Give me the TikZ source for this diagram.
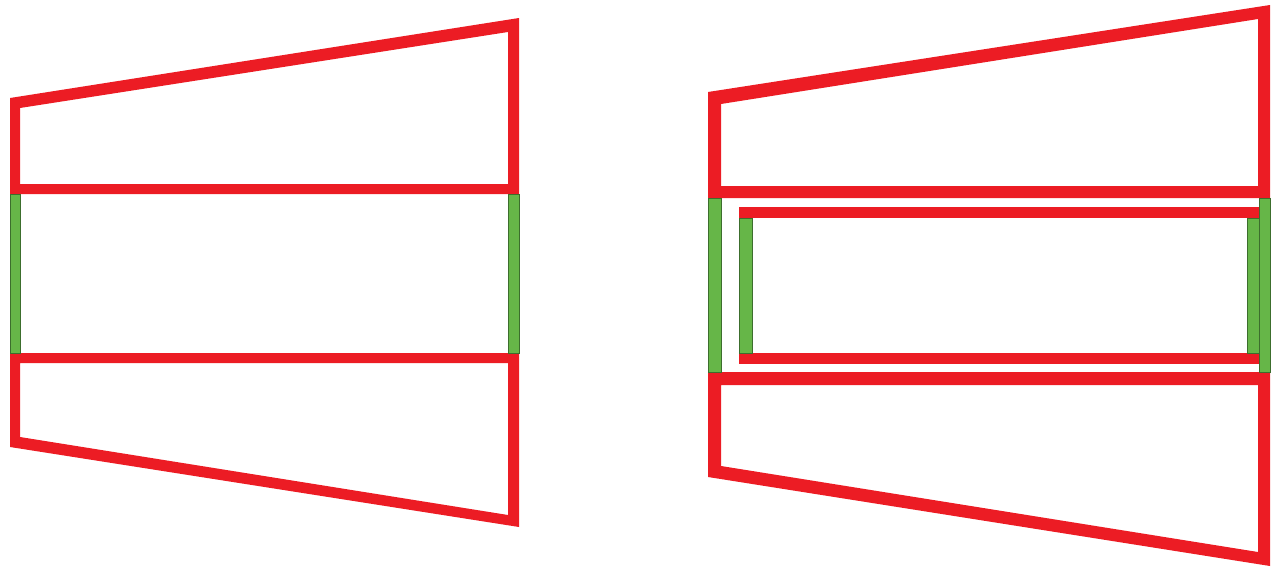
\documentclass[tikz,border=0pt]{standalone}
\definecolor{frred}{RGB}{236,28,36}
\definecolor{frgreen}{RGB}{102,182,72}
\definecolor{frgreenedge}{RGB}{60,110,45}
\tikzset{
  redframe/.style={fill=frred, even odd rule, draw=none},
  redbar/.style={fill=frred, draw=none},
  greenbar/.style={fill=frgreen, draw=frgreenedge, line width=0.15pt},
}
\begin{document}
\begin{tikzpicture}[x=0.02cm, y=-0.02cm]
\useasboundingbox (0,0) rectangle (1274,568);
% ---------- left figure ----------
% upper trapezoid frame
\path[redframe] (10,98) -- (519,18) -- (519,194) -- (10,194) -- cycle
                (20,108) -- (508,32) -- (508,184) -- (20,184) -- cycle;
% lower trapezoid frame
\path[redframe] (10,353) -- (519,353) -- (519,527) -- (10,447) -- cycle
                (20,363) -- (508,363) -- (508,515) -- (20,437) -- cycle;
% green side bars
\path[greenbar] (10,194) rectangle (20,353);
\path[greenbar] (508,194) rectangle (519,353);
% ---------- right figure ----------
% upper trapezoid frame
\path[redframe] (708,92) -- (1270,5) -- (1270,198) -- (708,198) -- cycle
                (721,104) -- (1258,19) -- (1258,186) -- (721,186) -- cycle;
% lower trapezoid frame
\path[redframe] (708,372) -- (1270,372) -- (1270,566) -- (708,477) -- cycle
                (721,385) -- (1258,385) -- (1258,552) -- (721,466) -- cycle;
% outer green side bars
\path[greenbar] (708,198) rectangle (721,372);
\path[greenbar] (1259,198) rectangle (1270,372);
% inner rectangle
\path[redbar] (739,207) rectangle (1259,218);
\path[redbar] (739,353) rectangle (1259,364);
\path[greenbar] (739,218) rectangle (752,353);
\path[greenbar] (1247,218) rectangle (1259,353);
\end{tikzpicture}
\end{document}
